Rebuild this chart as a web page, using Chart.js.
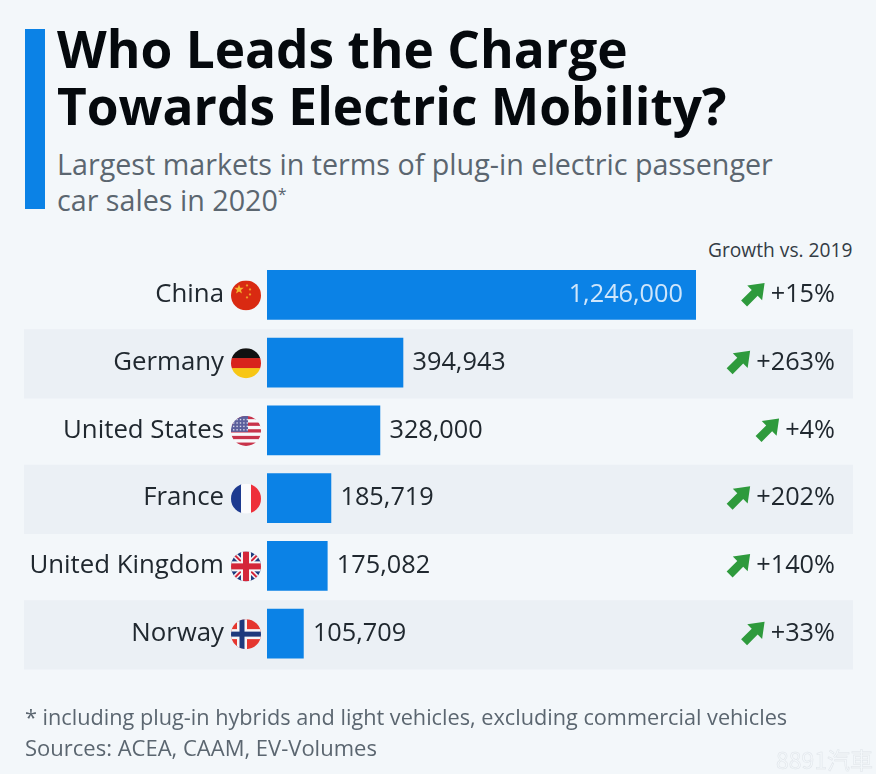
<!DOCTYPE html>
<html>
<head>
<meta charset="utf-8">
<script src="https://cdn.jsdelivr.net/npm/chart.js@4"></script>
<style>
    html, body { margin: 0; padding: 0; background: #f3f7fa; }
    body { position: relative; width: 876px; height: 774px; overflow: hidden; font-family: "Open Sans", sans-serif; }
    canvas { position: absolute; left: 0; top: 0; }
    .text { position: absolute; white-space: nowrap; }
    #accent { position: absolute; left: 25px; top: 29px; width: 20px; height: 180px; background: #0b82e6; }
    #title { left: 57px; top: 20px; font-size: 51.4px; line-height: 57px; font-weight: 700; color: #05090d; }
    #subtitle { left: 57px; top: 146px; font-size: 28.7px; line-height: 36px; color: #5b6670; }
    #subtitle sup { font-size: 16px; line-height: 0; }
    #growth-head { left: 708px; top: 237px; font-size: 19.2px; line-height: 25px; color: #333c45; }
    #notes { left: 25px; top: 701px; font-size: 21.7px; line-height: 31px; color: #5b6670; }
    #notes span { font-size: 22px; }
    #mark { left: 776px; top: 744px; font-family: "Noto Sans CJK TC", sans-serif; font-size: 23px; line-height: 30px; color: #f3f7fa; -webkit-text-stroke: 0.5px #dfe4e9; }
</style>
</head>
<body>
<div id="accent"></div>
<div class="text" id="title">Who Leads the Charge<br>Towards Electric Mobility?</div>
<div class="text" id="subtitle">Largest markets in terms of plug-in electric passenger<br>car sales in 2020<sup>*</sup></div>
<div class="text" id="growth-head">Growth vs. 2019</div>
<canvas id="chart" width="876" height="774"></canvas>
<div class="text" id="notes">* including plug-in hybrids and light vehicles, excluding commercial vehicles<br><span>Sources: ACEA, CAAM, EV-Volumes</span></div>
<div class="text" id="mark">8891汽車</div>
<script>
const categories = ['China', 'Germany', 'United States', 'France', 'United Kingdom', 'Norway'];
const salesValues = [1246000, 394943, 328000, 185719, 175082, 105709];
const growthLabels = ['+15%', '+263%', '+4%', '+202%', '+140%', '+33%'];

const BLUE = '#0b82e6';
const INK = '#20282f';

// each flag is painted inside a circle centred on 0,0 with radius r
function stripesH(ctx, r, colors) {
    const h = 2 * r / colors.length;
    colors.forEach((c, i) => { ctx.fillStyle = c; ctx.fillRect(-r, -r + i * h, 2 * r, h + 0.5); });
}
function stripesV(ctx, r, colors) {
    const w = 2 * r / colors.length;
    colors.forEach((c, i) => { ctx.fillStyle = c; ctx.fillRect(-r + i * w, -r, w + 0.5, 2 * r); });
}
function star(ctx, x, y, size, color) {
    ctx.fillStyle = color;
    ctx.beginPath();
    for (let i = 0; i < 10; i++) {
        const a = -Math.PI / 2 + i * Math.PI / 5;
        const d = i % 2 ? size * 0.42 : size;
        ctx.lineTo(x + Math.cos(a) * d, y + Math.sin(a) * d);
    }
    ctx.closePath();
    ctx.fill();
}
const flags = {
    'China': (ctx, r) => {
        ctx.fillStyle = '#d92a12';
        ctx.fillRect(-r, -r, 2 * r, 2 * r);
        star(ctx, -7, -6, 5, '#f5b52e');
        star(ctx, 1, -10, 1.6, '#f5b52e');
        star(ctx, 4, -6, 1.6, '#f5b52e');
        star(ctx, 4, -1, 1.6, '#f5b52e');
        star(ctx, 1, 2, 1.6, '#f5b52e');
    },
    'Germany': (ctx, r) => stripesH(ctx, r, ['#111111', '#d8231c', '#f7c615']),
    'United States': (ctx, r) => {
        const colors = [];
        for (let i = 0; i < 9; i++) colors.push(i % 2 ? '#f8f8fa' : '#c8334a');
        stripesH(ctx, r, colors);
        ctx.fillStyle = '#5b5f9c';
        ctx.fillRect(-r, -r, r + 2, r + 1);
        ctx.fillStyle = '#d8d9ea';
        for (let y = -r + 3; y < 0; y += 3.4) {
            for (let x = -r + 2; x < 2; x += 3.4) ctx.fillRect(x, y, 1.4, 1.4);
        }
    },
    'France': (ctx, r) => stripesV(ctx, r, ['#1d3a8f', '#fbfbfd', '#ee2f3a']),
    'United Kingdom': (ctx, r) => {
        ctx.fillStyle = '#1f3a7d';
        ctx.fillRect(-r, -r, 2 * r, 2 * r);
        ctx.lineCap = 'butt';
        ctx.strokeStyle = '#f6f6f8';
        ctx.lineWidth = 5;
        ctx.beginPath(); ctx.moveTo(-r, -r); ctx.lineTo(r, r); ctx.moveTo(r, -r); ctx.lineTo(-r, r); ctx.stroke();
        ctx.strokeStyle = '#d4263a';
        ctx.lineWidth = 2;
        ctx.beginPath(); ctx.moveTo(-r, -r); ctx.lineTo(r, r); ctx.moveTo(r, -r); ctx.lineTo(-r, r); ctx.stroke();
        ctx.fillStyle = '#f6f6f8';
        ctx.fillRect(-r, -5, 2 * r, 10);
        ctx.fillRect(-5, -r, 10, 2 * r);
        ctx.fillStyle = '#d4263a';
        ctx.fillRect(-r, -3, 2 * r, 6);
        ctx.fillRect(-3, -r, 6, 2 * r);
    },
    'Norway': (ctx, r) => {
        ctx.fillStyle = '#e5362f';
        ctx.fillRect(-r, -r, 2 * r, 2 * r);
        ctx.fillStyle = '#f6f6f8';
        ctx.fillRect(-r, -5, 2 * r, 10);
        ctx.fillRect(-9, -r, 10, 2 * r);
        ctx.fillStyle = '#1f3a7d';
        ctx.fillRect(-r, -2.5, 2 * r, 5);
        ctx.fillRect(-6.5, -r, 5, 2 * r);
    }
};

function drawArrow(ctx, right, cy) {
    ctx.save();
    ctx.translate(right - 11, cy);
    ctx.rotate(-Math.PI / 4);
    ctx.fillStyle = '#2e9a3c';
    ctx.beginPath();
    ctx.moveTo(-15, -4.2);
    ctx.lineTo(0, -4.2);
    ctx.lineTo(0, -10.5);
    ctx.lineTo(14, 0);
    ctx.lineTo(0, 10.5);
    ctx.lineTo(0, 4.2);
    ctx.lineTo(-15, 4.2);
    ctx.closePath();
    ctx.fill();
    ctx.restore();
}

const rowDecor = {
    id: 'rowDecor',
    // zebra bands go under the axis labels
    beforeDraw(chart) {
        const { ctx, scales: { y } } = chart;
        const step = y.getPixelForValue(1) - y.getPixelForValue(0);
        ctx.save();
        ctx.fillStyle = '#ebf0f5';
        categories.forEach((c, i) => {
            if (i % 2 === 1) ctx.fillRect(24, y.getPixelForValue(i) - step / 2 + 0.5, 829, step + 1.5);
        });
        ctx.restore();
    },
    afterDatasetsDraw(chart) {
        const { ctx, scales: { x, y } } = chart;
        ctx.save();
        ctx.textBaseline = 'middle';
        categories.forEach((c, i) => {
            const cy = y.getPixelForValue(i);

            ctx.save();
            ctx.translate(246, cy + 0.5);
            ctx.beginPath();
            ctx.arc(0, 0, 15, 0, Math.PI * 2);
            ctx.clip();
            flags[c](ctx, 15);
            ctx.restore();

            ctx.font = '25.3px "Open Sans"';
            const end = x.getPixelForValue(salesValues[i]);
            if (i === 0) {
                ctx.textAlign = 'right';
                ctx.fillStyle = '#cfe6fb';
                ctx.fillText(salesValues[i].toLocaleString('en-US'), end - 13, cy);
            } else {
                ctx.textAlign = 'left';
                ctx.fillStyle = INK;
                ctx.fillText(salesValues[i].toLocaleString('en-US'), end + 9.5, cy);
            }

            ctx.textAlign = 'right';
            ctx.fillStyle = INK;
            ctx.fillText(growthLabels[i], 835, cy);
            const w = ctx.measureText(growthLabels[i]).width;
            drawArrow(ctx, 835 - w - 5, cy - 2);
        });
        ctx.restore();
    }
};

new Chart(document.getElementById('chart'), {
    type: 'bar',
    data: {
        labels: categories,
        datasets: [{
            data: salesValues,
            backgroundColor: BLUE,
            borderWidth: 0,
            barThickness: 49
        }]
    },
    options: {
        indexAxis: 'y',
        responsive: false,
        animation: false,
        layout: { padding: { top: 261, bottom: 106.5, left: 0, right: 180 } },
        plugins: { legend: { display: false }, tooltip: { enabled: false } },
        scales: {
            x: { display: false, min: 0, max: salesValues[0] },
            y: {
                afterFit(scale) { scale.width = 267; },
                border: { display: false },
                grid: { display: false },
                ticks: {
                    color: INK,
                    padding: 35,
                    font: { family: '"Open Sans"', size: 25.8 }
                }
            }
        }
    },
    plugins: [rowDecor]
});
</script>
</body>
</html>
